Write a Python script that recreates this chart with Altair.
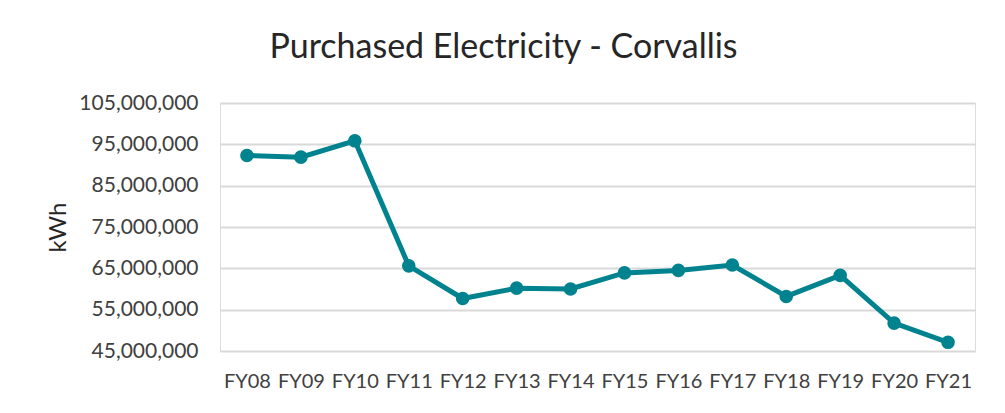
import altair as alt
import pandas as pd

years = ["FY08", "FY09", "FY10", "FY11", "FY12", "FY13", "FY14",
         "FY15", "FY16", "FY17", "FY18", "FY19", "FY20", "FY21"]
kwh = [92300000, 91900000, 95850000, 65600000, 57700000, 60200000, 60000000,
       63900000, 64500000, 65800000, 58200000, 63300000, 51750000, 47100000]
y_ticks = [45000000, 55000000, 65000000, 75000000, 85000000, 95000000, 105000000]

df = pd.DataFrame({"year": years, "kwh": kwh})

FONT = "Lato"
TEAL = "#00838F"

base = alt.Chart(df).encode(
    x=alt.X("year:O", sort=years, title=None,
            scale=alt.Scale(type="point", padding=0.5),
            axis=alt.Axis(labelAngle=0, labelFontSize=20, labelFont=FONT,
                          labelColor="#404040", labelPadding=20, ticks=False,
                          domain=False, grid=False)),
    y=alt.Y("kwh:Q", title="kWh",
            scale=alt.Scale(domain=[45000000, 105000000], nice=False, zero=False),
            axis=alt.Axis(values=y_ticks, format=",d", labelFontSize=21,
                          labelFont=FONT, labelColor="#404040", labelPadding=22,
                          ticks=False, domain=False, grid=True,
                          gridColor="#d9d9d9", gridWidth=2,
                          titleFont=FONT, titleFontSize=24, titleFontWeight="normal",
                          titleColor="#262626", titlePadding=8)),
)

line = base.mark_line(color=TEAL, strokeWidth=5)
pts = base.mark_circle(color=TEAL, size=185, opacity=1)

chart = (line + pts).properties(
    width=755,
    height=248,
    title=alt.TitleParams("Purchased Electricity - Corvallis", font=FONT,
                          fontSize=34, fontWeight="normal", color="#262626",
                          anchor="middle", dx=-94, offset=27),
    autosize=alt.AutoSizeParams(type="none"),
    padding={"left": 212, "top": 95, "right": 22, "bottom": 62},
).configure_view(stroke=None).configure(background="white")

chart.save("out.html", embed_options={"renderer": "svg", "actions": False})
